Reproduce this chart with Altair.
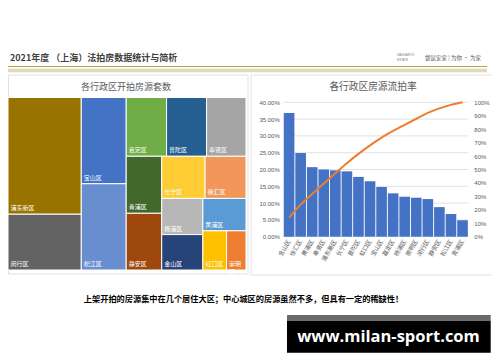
import altair as alt
import pandas as pd

# ---------------- data ----------------
# Treemap: number of listings per district
tm_names = ["浦东新区", "闵行区", "宝山区", "松江区", "嘉定区", "普陀区", "奉贤区",
            "青浦区", "静安区", "长宁区", "徐汇区", "杨浦区", "金山区", "黄浦区",
            "虹口区", "崇明区"]
tm_values = [764, 365, 346, 346, 212, 210, 207, 181, 180, 163, 154, 133, 130, 125, 83, 68]
tm_colors = ["#997300", "#636363", "#4472C4", "#698ED0", "#70AD47", "#255E91", "#A5A5A5",
             "#43682B", "#9E480E", "#FFCD33", "#F1975A", "#B7B7B7", "#264478", "#5B9BD5",
             "#FFC000", "#ED7D31"]
tm_labels = ["浦东新区", "闵行区", "宝山区", "松江区", "嘉定区", "普陀区", "奉贤区",
             "青浦区", "静安区", "长宁区", "徐汇区", "杨浦区", "金山区", "黄浦区",
             "虹口区", "崇明\n区"]
# layout structure of the Excel treemap: (number of items, strip orientation)
tm_groups = [(2, "col"), (2, "col"), (3, "row"), (2, "col"), (2, "row"), (2, "col"),
             (1, "row"), (2, "row")]

# Pareto: unsold (流拍) rate per district
pa_names = ["金山区", "徐汇区", "黄浦区", "奉贤区", "浦东新区", "长宁区", "普陀区", "虹口区",
            "宝山区", "嘉定区", "杨浦区", "崇明区", "闵行区", "静安区", "松江区", "青浦区"]
pa_rates = [0.368, 0.249, 0.207, 0.200, 0.1975, 0.1945, 0.178, 0.165,
            0.148, 0.129, 0.119, 0.116, 0.112, 0.088, 0.0675, 0.049]
left_ticks = [0, 0.05, 0.10, 0.15, 0.20, 0.25, 0.30, 0.35, 0.40]
right_ticks = [0, 0.1, 0.2, 0.3, 0.4, 0.5, 0.6, 0.7, 0.8, 0.9, 1.0]

# ---------------- treemap layout (computed from values) ----------------
TM_W = 100.0
TM_H = 100.0 * 172.5 / 238.0
unit = TM_W * TM_H / sum(tm_values)
rows = []
x0, y0, x1, y1 = 0.0, 0.0, TM_W, TM_H
i = 0
for n, orient in tm_groups:
    items = list(range(i, i + n))
    i += n
    area = sum(tm_values[k] for k in items) * unit
    if orient == "col":
        w = area / (y1 - y0)
        cy = y0
        for k in items:
            h = tm_values[k] * unit / w
            rows.append(dict(name=tm_names[k], label=tm_labels[k], x0=x0, x1=x0 + w, y0=cy, y1=cy + h))
            cy += h
        x0 += w
    else:
        h = area / (x1 - x0)
        cx = x0
        for k in items:
            w = tm_values[k] * unit / h
            rows.append(dict(name=tm_names[k], label=tm_labels[k], x0=cx, x1=cx + w, y0=y0, y1=y0 + h))
            cx += w
        y0 += h
tm_df = pd.DataFrame(rows)

pa_df = pd.DataFrame({"name": pa_names, "rate": pa_rates})
grid_df = pd.DataFrame({"v": left_ticks})

W, H = 484, 346
CJK = "Noto Sans CJK SC"
one = pd.DataFrame({"a": [0]})

# pareto plot area (canvas px)
PL, PR, PT, PB = 275.3, 460.3, 94.3, 228.7

def box(x, x2, y, y2, fill=None, stroke=None, sw=1):
    kw = {}
    if fill:
        kw["fill"] = fill
    else:
        kw["fillOpacity"] = 0
    if stroke:
        kw["stroke"] = stroke
        kw["strokeWidth"] = sw
    return alt.Chart(one).mark_rect(**kw).encode(
        x=alt.value(x), x2=alt.value(x2), y=alt.value(y), y2=alt.value(y2))

def label(txt, x, y, size, color="#404040", bold=False, align="left", font=CJK, angle=0, opacity=1):
    return alt.Chart(one).mark_text(
        text=txt, fontSize=size, color=color, font=font, align=align, baseline="middle",
        fontWeight="bold" if bold else "normal", angle=angle, opacity=opacity, lineBreak="\n"
    ).encode(x=alt.value(x), y=alt.value(y))

layers = []
# header
layers.append(label("2021年度 （上海）法拍房数据统计与简析", 2, 50, 9, "#3F3F3F", bold=True))
layers.append(label("KANGAROO\nESTATE", 389, 47, 3, "#7F7F7F", font="Liberation Sans"))
layers.append(label("袋鼠安家 | 为你 · 为家", 417, 49.5, 5.5, "#595959"))
layers.append(box(0, 479, 58, 59, fill="#BBA53D"))
layers.append(box(0, 479, 60.7, 64.3, fill="#DDD8BE"))
# panels
layers.append(box(0.5, 240, 67, 266, stroke="#D9D9D9", sw=0.8))
layers.append(box(243, 489, 67, 267, stroke="#D9D9D9", sw=0.8))
layers.append(label("各行政区开拍房源套数", 118, 79, 9, "#595959", align="center"))
layers.append(label("各行政区房源流拍率", 365, 79.3, 9.7, "#595959", align="center"))

# treemap
tx = alt.Scale(domain=[0, TM_W], range=[0, 238], nice=False, zero=False)
ty = alt.Scale(domain=[0, TM_H], range=[89.5, 262], nice=False, zero=False)
treemap = alt.Chart(tm_df).mark_rect(stroke="white", strokeWidth=1).encode(
    x=alt.X("x0:Q", scale=tx, axis=None),
    x2="x1:Q",
    y=alt.Y("y0:Q", scale=ty, axis=None),
    y2="y1:Q",
    color=alt.Color("name:N", scale=alt.Scale(domain=tm_names, range=tm_colors), legend=None),
)
tm_text = alt.Chart(tm_df).mark_text(
    align="left", baseline="bottom", dx=2.5, dy=-3, fontSize=6, color="white", font=CJK,
    lineBreak="\n"
).encode(
    x=alt.X("x0:Q", scale=tx, axis=None),
    y=alt.Y("y1:Q", scale=ty, axis=None),
    text="label:N",
)
layers += [treemap, tm_text]

# pareto
ly = alt.Scale(domain=[0, 0.4], range=[PB, PT], nice=False, zero=False)
ry = alt.Scale(domain=[0, 1], range=[PB, PT], nice=False, zero=False)
bx = alt.Scale(type="band", domain=pa_names, range=[PL, PR], paddingInner=0.08, paddingOuter=0.04)

grid = alt.Chart(grid_df).mark_rule(color="#D9D9D9", strokeWidth=0.8).encode(
    y=alt.Y("v:Q", scale=ly, axis=None),
    x=alt.value(PL), x2=alt.value(PR),
)
bars = alt.Chart(pa_df).mark_bar(color="#4472C4").encode(
    x=alt.X("name:N", scale=bx, title=None,
            axis=alt.Axis(orient="bottom", offset=-(H - PB), labelAngle=-60, labelAlign="right",
                          labelBaseline="middle", labelFontSize=6, labelFont=CJK, labelColor="#595959",
                          labelPadding=3, ticks=False, domain=False, grid=False, labelOverlap=False)),
    y=alt.Y("rate:Q", scale=ly, title=None,
            axis=alt.Axis(orient="left", offset=-PL, values=left_ticks, format=".2%", labelFontSize=6,
                          labelFont="Liberation Sans", labelColor="#595959", labelPadding=4,
                          ticks=False, domain=False, grid=False)),
)
line = alt.Chart(pa_df).transform_window(
    cum="sum(rate)", sort=[alt.SortField("rate", order="descending")], frame=[None, 0]
).transform_joinaggregate(total="sum(rate)").transform_calculate(
    cum_pct="datum.cum / datum.total"
).mark_line(color="#ED7D31", strokeWidth=2, interpolate="monotone").encode(
    x=alt.X("name:N", scale=bx, axis=None, bandPosition=0.5),
    y=alt.Y("cum_pct:Q", scale=ry, title=None,
            axis=alt.Axis(orient="right", offset=-(W - PR), values=right_ticks, format=".0%",
                          labelFontSize=6, labelFont="Liberation Sans", labelColor="#595959",
                          labelPadding=5.5, ticks=False, domain=False, grid=False)),
)
layers += [grid, bars, line]

# footer
layers.append(label("上架开拍的房源集中在几个居住大区；中心城区的房源虽然不多，但具有一定的稀缺性！",
                    235.5, 292, 8.2, "#000000", bold=True, align="center"))
layers.append(box(279, 482.7, 307, 312.7, fill="#6B6B6B"))
layers.append(box(279, 482.7, 312.7, 344.7, fill="#000000"))
layers.append(label("www.milan-sport.com", 380.5, 329, 16.5, "#FFFFFF", bold=True, align="center",
                    font="Open Sans"))

chart = alt.layer(*layers).resolve_scale(
    x="independent", y="independent", color="independent"
).properties(
    width=W, height=H, padding=0, autosize="none", background="white"
).configure_view(stroke=None)

chart.save("out.html", embed_options={"renderer": "svg", "actions": False})
